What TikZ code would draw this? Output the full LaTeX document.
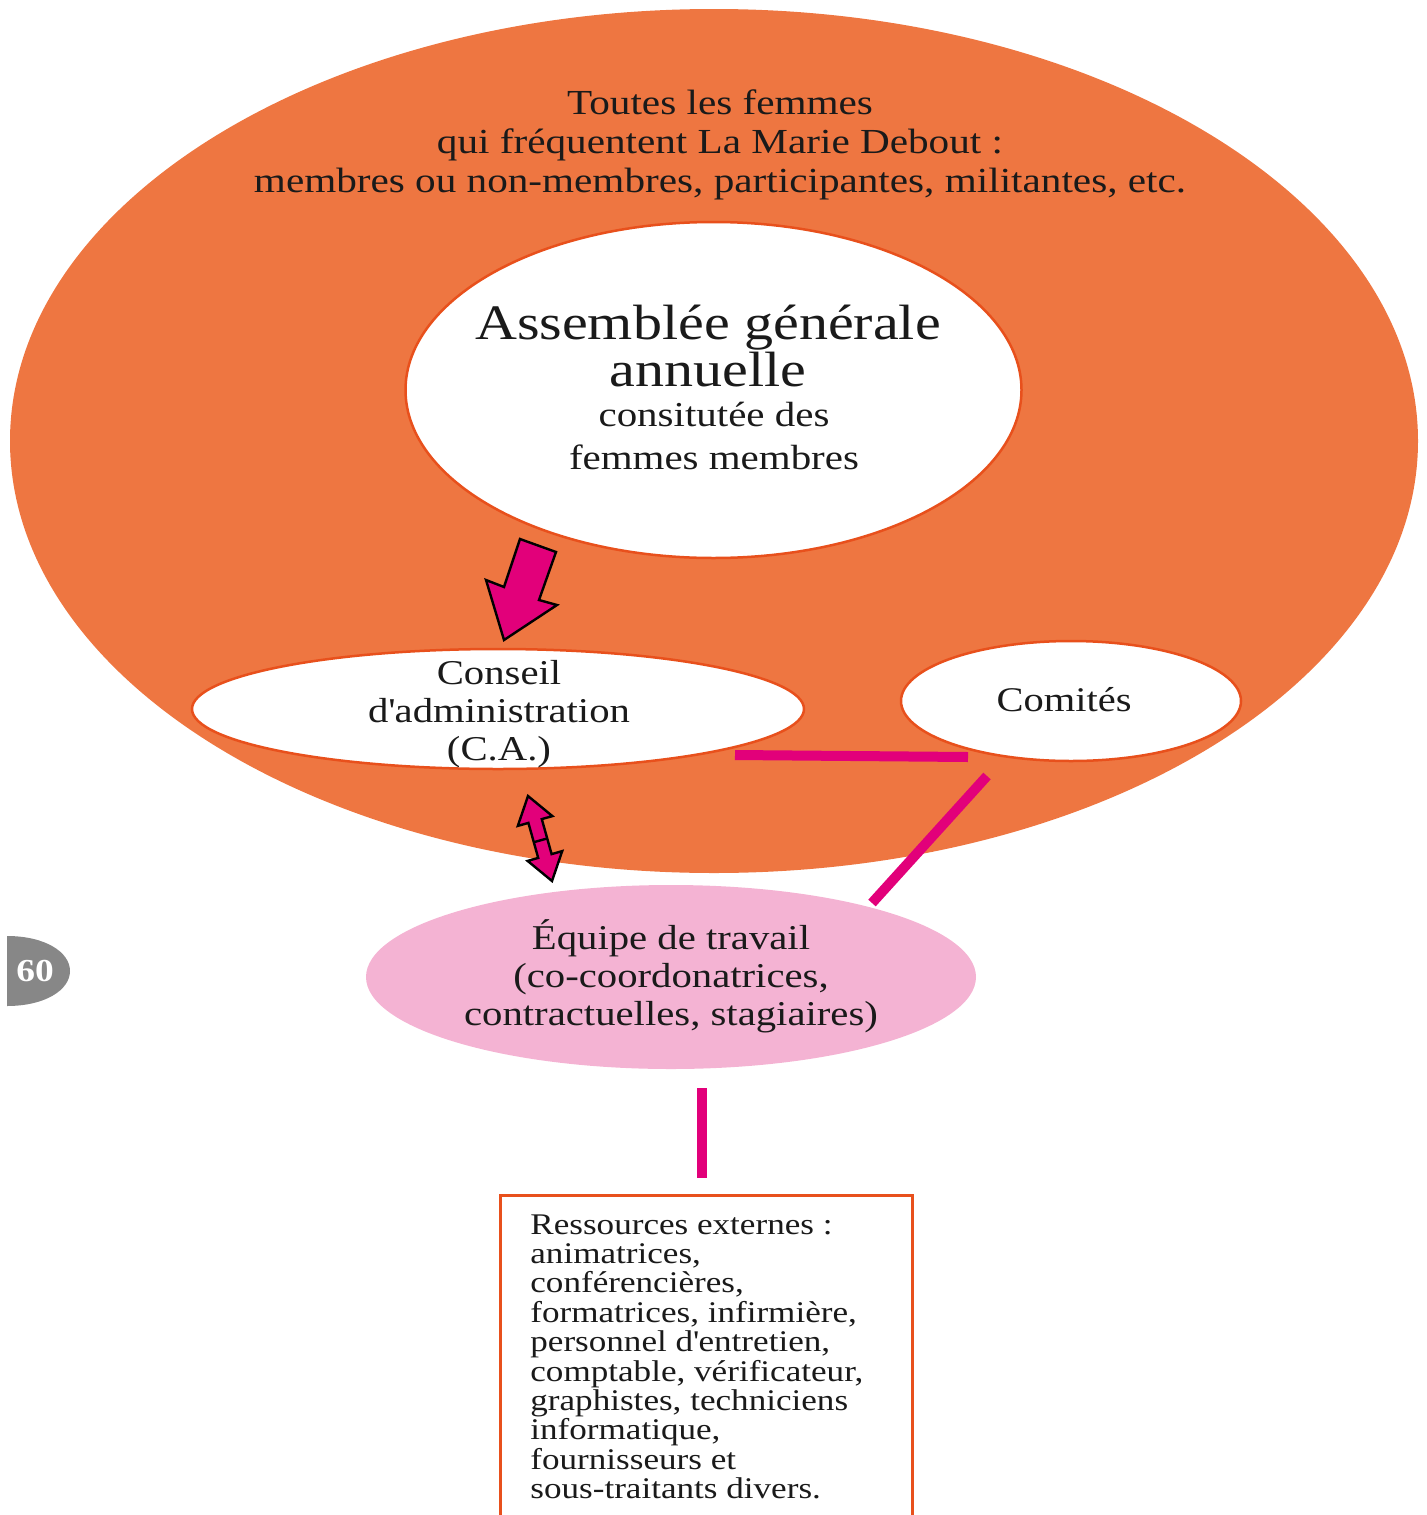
\documentclass[tikz,border=0pt]{standalone}
\usepackage{fontspec}
\setmainfont[FakeStretch=1.17]{Liberation Serif}
\usetikzlibrary{shapes.geometric}
\definecolor{orbg}{HTML}{EE7641}
\definecolor{orline}{HTML}{E8501C}
\definecolor{mag}{HTML}{E2007A}
\definecolor{pinkf}{HTML}{F4B3D3}
\definecolor{badge}{HTML}{878787}
\definecolor{ink}{HTML}{1A1A1A}
\tikzset{
  oval/.style={ellipse, inner sep=0pt, draw=orline, line width=1.25pt, fill=white},
  link/.style={draw=mag, line width=5pt},
  fatarrow/.style={fill=mag, draw=black, line width=1.2pt, line join=miter},
  txt/.style={text=ink, align=center, inner sep=0pt},
}
\begin{document}
\begin{tikzpicture}[x=0.5pt,y=-0.5pt]
\useasboundingbox (0,0) rectangle (1426,1515);
\clip (0,0) rectangle (1426,1515);
% big ellipse
\node[ellipse, inner sep=0pt, fill=orbg, minimum width=704pt, minimum height=432pt] (all) at (714,441) {};
\node[txt, font=\fontsize{17.6}{19.5}\selectfont] (alltxt) at (720,145)
  {Toutes les femmes\\qui fréquentent La Marie Debout :\\membres ou non-membres, participantes, militantes, etc.};
% AGA
\node[oval, minimum width=308pt, minimum height=168pt] (aga) at (713.5,390) {};
\node[txt, font=\fontsize{24.8}{20.5}\selectfont] (agatitle) at (708,346) {Assemblée générale\\annuelle};
\node[txt, font=\fontsize{17.5}{21.5}\selectfont] (agasub) at (714,436) {consitutée des\\femmes membres};
% CA
\node[oval, minimum width=306pt, minimum height=60pt] (ca) at (498,709) {};
\node[txt, font=\fontsize{17.4}{19}\selectfont] (catxt) at (499,714) {Conseil\\d\textquotesingle administration\\(C.A.)};
% Comites
\node[oval, minimum width=170pt, minimum height=60pt] (com) at (1071,701) {};
\node[txt, font=\fontsize{17.3}{19}\selectfont] (comtxt) at (1064,700) {Comités};
% Equipe
\node[ellipse, inner sep=0pt, fill=pinkf, minimum width=305pt, minimum height=92pt] (eq) at (671,977) {};
\node[txt, font=\fontsize{17.4}{19}\selectfont] (eqtxt) at (671,976) {Équipe de travail\\(co-coordonatrices,\\contractuelles, stagiaires)};
% box
\node[draw=orline, line width=1.25pt, fill=white, anchor=north west, minimum width=206pt, minimum height=175pt, inner sep=0pt] (box) at (499,1194) {};
\node[anchor=north west, align=left, text=ink, inner sep=0pt, font=\fontsize{15}{14.7}\selectfont] (boxtxt) at (530,1214)
  {Ressources externes :\\animatrices,\\conférencières,\\formatrices, infirmière,\\personnel d\textquotesingle entretien,\\comptable, vérificateur,\\graphistes, techniciens\\informatique,\\fournisseurs et\\sous-traitants divers.};
% connectors
\coordinate (l1a) at (735,755);
\coordinate (l1b) at (968,757);
\coordinate (l2a) at (987,776);
\coordinate (l2b) at (872,903);
\coordinate (l3a) at (702,1088);
\coordinate (l3b) at (702,1178);
\draw[link] (l1a) -- (l1b);
\draw[link] (l2a) -- (l2b);
\draw[link] (l3a) -- (l3b);
% arrow AGA -> CA
\draw[fatarrow] (520,539) -- (556,552) -- (539,600) -- (557,605) -- (504,640) -- (486,580) -- (504,587) -- cycle;
% double arrow CA <-> Equipe
\draw[fatarrow] (528,796) -- (552.4,816.1) -- (541.8,819.1) -- (551.6,854.1) -- (562.2,851.1) -- (552,881) -- (527.6,860.9) -- (538.2,857.9) -- (528.4,822.9) -- (517.8,825.9) -- cycle;
\draw[black, line width=1.2pt] (533.4,842.3) -- (547,838.5);
% badge
\fill[badge] (7,936) .. controls (45,936) and (70,952) .. (70,971) .. controls (70,990) and (45,1006) .. (7,1006) -- cycle;
\node[text=white, font=\fontsize{16}{16}\selectfont\bfseries, inner sep=0pt] (pg) at (35,971) {60};
\end{tikzpicture}
\end{document}
